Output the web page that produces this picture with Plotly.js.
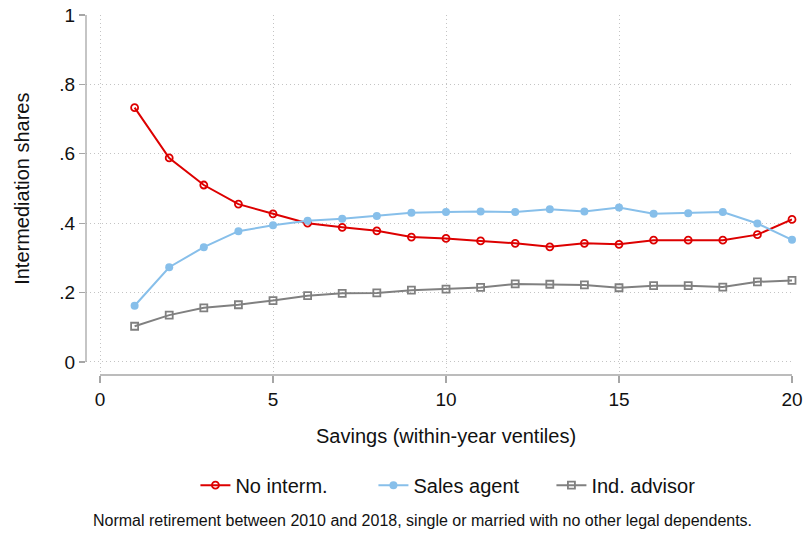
<!DOCTYPE html>
<html>
<head>
<meta charset="utf-8">
<script src="https://cdn.plot.ly/plotly-3.0.1.min.js"></script>
<style>html,body{margin:0;padding:0;background:#fff;}#chart{width:808px;height:533px;}</style>
</head>
<body>
<div id="chart"></div>
<script>
const ventiles = [1,2,3,4,5,6,7,8,9,10,11,12,13,14,15,16,17,18,19,20];
const noInterm = [0.733,0.588,0.510,0.455,0.427,0.400,0.388,0.378,0.360,0.356,0.349,0.342,0.332,0.342,0.339,0.351,0.351,0.351,0.367,0.411];
const salesAgent = [0.162,0.273,0.331,0.377,0.394,0.407,0.413,0.421,0.430,0.432,0.434,0.432,0.440,0.434,0.445,0.427,0.429,0.432,0.399,0.352];
const indAdvisor = [0.103,0.135,0.156,0.165,0.177,0.191,0.198,0.199,0.207,0.210,0.215,0.225,0.224,0.222,0.214,0.220,0.220,0.216,0.231,0.235];
const xTicks = [0,5,10,15,20];
const yTicks = [0,0.2,0.4,0.6,0.8,1];
const yTickText = ['0','.2','.4','.6','.8','1'];
const seriesNames = ['No interm.','Sales agent','Ind. advisor'];
const xTitle = 'Savings (within-year ventiles)';
const yTitle = 'Intermediation shares';
const note = 'Normal retirement between 2010 and 2018, single or married with no other legal dependents.';

const FONT = 'Liberation Sans, Arial, Helvetica, sans-serif';
const axisGray = '#a6a6a6';
const gridGray = '#c4c4c4';

const traces = [
  {x: ventiles, y: noInterm, name: seriesNames[0], mode: 'lines+markers', cliponaxis: false,
   line: {color: '#dd0000', width: 2},
   marker: {symbol: 'circle-open', size: 7, color: '#dd0000', line: {width: 1.8}}},
  {x: ventiles, y: salesAgent, name: seriesNames[1], mode: 'lines+markers', cliponaxis: false,
   line: {color: '#87bfea', width: 2},
   marker: {symbol: 'circle', size: 8, color: '#87bfea'}},
  {x: ventiles, y: indAdvisor, name: seriesNames[2], mode: 'lines+markers', cliponaxis: false,
   line: {color: '#808080', width: 2},
   marker: {symbol: 'square-open', size: 7, color: '#808080', line: {width: 1.8}}}
];

const layout = {
  width: 808, height: 533,
  paper_bgcolor: '#fff', plot_bgcolor: '#fff',
  margin: {l: 86, r: 16, t: 15, b: 158},
  font: {family: FONT, size: 19, color: '#111'},
  showlegend: true,
  xaxis: {
    range: [-0.405, 20], tickvals: xTicks, ticktext: xTicks.map(String),
    showline: false, zeroline: false,
    showgrid: true, gridcolor: gridGray, griddash: '1px,3px', gridwidth: 1,
    ticks: 'outside', ticklen: 7, tickcolor: axisGray, tickwidth: 1.2,
    tickfont: {size: 19, color: '#111'}
  },
  yaxis: {
    range: [-0.0375, 1], tickvals: yTicks, ticktext: yTickText,
    showline: false, zeroline: false,
    showgrid: true, gridcolor: gridGray, griddash: '1px,3px', gridwidth: 1,
    ticks: 'outside', ticklen: 6, tickcolor: axisGray, tickwidth: 1.2,
    tickfont: {size: 19, color: '#111'}
  },
  shapes: [
    {type: 'line', xref: 'x', yref: 'paper', x0: xTicks[0], x1: xTicks[xTicks.length-1], y0: 0, y1: 0,
     line: {color: axisGray, width: 1.3}},
    {type: 'line', xref: 'paper', yref: 'y', x0: 0, x1: 0, y0: yTicks[0], y1: yTicks[yTicks.length-1],
     line: {color: axisGray, width: 1.3}}
  ],
  legend: {orientation: 'h', x: 0.155, xanchor: 'left', y: -0.306, yanchor: 'middle',
           font: {size: 20, color: '#111'}, itemwidth: 30, traceorder: 'normal',
           entrywidth: 133, entrywidthmode: 'pixels'},
  annotations: [
    {text: xTitle, xref: 'paper', yref: 'paper', x: 0.51, y: -0.169, xanchor: 'center', yanchor: 'middle',
     showarrow: false, font: {size: 20, color: '#111'}},
    {text: yTitle, xref: 'paper', yref: 'paper', x: -0.0907, y: 0.517, xanchor: 'center', yanchor: 'middle',
     textangle: -90, showarrow: false, font: {size: 20, color: '#111'}},
    {text: note, xref: 'paper', yref: 'paper', x: 0.476, y: -0.403, xanchor: 'center', yanchor: 'middle',
     showarrow: false, font: {size: 16, color: '#111'}}
  ]
};

Plotly.newPlot('chart', traces, layout, {displayModeBar: false, staticPlot: true});
</script>
</body>
</html>
